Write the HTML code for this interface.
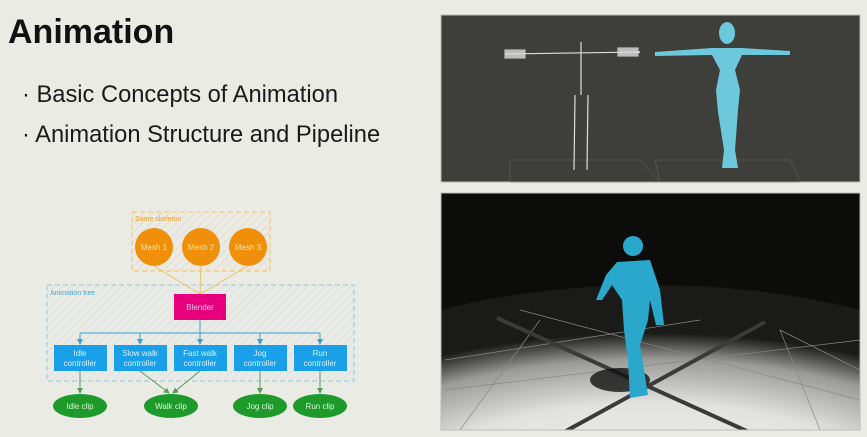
<!DOCTYPE html>
<html><head><meta charset="utf-8"><style>
html,body{margin:0;padding:0;background:#ebebe6;overflow:hidden;width:867px;height:437px;}
svg{display:block;}
</style></head><body>
<svg width="867" height="437" viewBox="0 0 867 437" xmlns="http://www.w3.org/2000/svg" font-family="Liberation Sans, sans-serif">
<defs>
<pattern id="hatchO" width="6" height="6" patternUnits="userSpaceOnUse" patternTransform="rotate(45)"><line x1="0" y1="0" x2="0" y2="6" stroke="#e5dcc8" stroke-width="2"/></pattern>
<pattern id="hatchB" width="6" height="6" patternUnits="userSpaceOnUse" patternTransform="rotate(45)"><line x1="0" y1="0" x2="0" y2="6" stroke="#d8e2e4" stroke-width="2"/></pattern>
<radialGradient id="spot" cx="0.5" cy="0.7" r="0.55">
<stop offset="0" stop-color="#f4f4f2"/><stop offset="0.6" stop-color="#e2e2e0"/><stop offset="0.85" stop-color="#9a9a98"/><stop offset="1" stop-color="#1a1a18"/></radialGradient>
<marker id="ab" markerWidth="6" markerHeight="6" refX="5" refY="3" orient="auto"><path d="M0,0 L6,3 L0,6z" fill="#3aa0d0"/></marker>
<marker id="ag" markerWidth="6" markerHeight="6" refX="5" refY="3" orient="auto"><path d="M0,0 L6,3 L0,6z" fill="#5a9a5a"/></marker>
<clipPath id="bp"><rect x="441" y="193" width="419" height="237"/></clipPath>
</defs>
<rect width="867" height="437" fill="#ebebe6"/>
<text x="8" y="43" font-size="34" font-weight="bold" fill="#111">Animation</text>
<text x="22" y="102" font-size="23.7" fill="#1a1a1a">· Basic Concepts of Animation</text>
<text x="22" y="142" font-size="23.7" fill="#1a1a1a">· Animation Structure and Pipeline</text>

<rect x="132" y="212" width="138" height="59" fill="url(#hatchO)" stroke="#f0c060" stroke-dasharray="5,3"/>
<text x="135" y="221" font-size="7" fill="#e8a030">Same skeleton</text>
<rect x="47" y="285" width="307" height="96" fill="url(#hatchB)" stroke="#90c8dc" stroke-dasharray="5,3"/>
<text x="50" y="295" font-size="7" fill="#40a8d0">Animation tree</text>
<g stroke="#e8c060" stroke-width="1"><line x1="154" y1="266" x2="200" y2="294"/><line x1="201" y1="266" x2="200" y2="294"/><line x1="248" y1="266" x2="200" y2="294"/></g>
<g fill="#f0900a"><circle cx="154" cy="247" r="19"/><circle cx="201" cy="247" r="19"/><circle cx="248" cy="247" r="19"/></g>
<g font-size="8" fill="#f8e0a0" text-anchor="middle"><text x="154" y="250">Mesh 1</text><text x="201" y="250">Mesh 2</text><text x="248" y="250">Mesh 3</text></g>
<rect x="174" y="294" width="52" height="26" fill="#e6007e"/>
<text x="200" y="310" font-size="8" fill="#f8c0e0" text-anchor="middle">Blender</text>
<g stroke="#3aa0d0" fill="none"><line x1="200" y1="320" x2="200" y2="344" marker-end="url(#ab)"/><line x1="80" y1="333" x2="320" y2="333"/>
<line x1="80" y1="333" x2="80" y2="344" marker-end="url(#ab)"/><line x1="140" y1="333" x2="140" y2="344" marker-end="url(#ab)"/><line x1="260" y1="333" x2="260" y2="344" marker-end="url(#ab)"/><line x1="320" y1="333" x2="320" y2="344" marker-end="url(#ab)"/></g>
<g fill="#1aa0e8"><rect x="54" y="345" width="53" height="26"/><rect x="114" y="345" width="53" height="26"/><rect x="174" y="345" width="53" height="26"/><rect x="234" y="345" width="53" height="26"/><rect x="294" y="345" width="53" height="26"/></g>
<g font-size="8" fill="#d8f0ff" text-anchor="middle">
<text x="80" y="356">Idle</text><text x="80" y="366">controller</text>
<text x="140" y="356">Slow walk</text><text x="140" y="366">controller</text>
<text x="200" y="356">Fast walk</text><text x="200" y="366">controller</text>
<text x="260" y="356">Jog</text><text x="260" y="366">controller</text>
<text x="320" y="356">Run</text><text x="320" y="366">controller</text></g>
<g stroke="#5a9a5a" fill="none"><line x1="80" y1="371" x2="80" y2="393" marker-end="url(#ag)"/><line x1="140" y1="371" x2="169" y2="393" marker-end="url(#ag)"/><line x1="200" y1="371" x2="173" y2="393" marker-end="url(#ag)"/><line x1="260" y1="371" x2="260" y2="393" marker-end="url(#ag)"/><line x1="320" y1="371" x2="320" y2="393" marker-end="url(#ag)"/></g>
<g fill="#1e9a2a"><ellipse cx="80" cy="406" rx="27" ry="12"/><ellipse cx="171" cy="406" rx="27" ry="12"/><ellipse cx="260" cy="406" rx="27" ry="12"/><ellipse cx="320" cy="406" rx="27" ry="12"/></g>
<g font-size="8" fill="#d8f8d8" text-anchor="middle"><text x="80" y="409">Idle clip</text><text x="171" y="409">Walk clip</text><text x="260" y="409">Jog clip</text><text x="320" y="409">Run clip</text></g>

<rect x="441" y="15" width="419" height="167" fill="#3e3e3b" stroke="#bbb" stroke-width="1"/>
<g stroke="#6a6a66" stroke-width="0.5" fill="none">
<path d="M510,160 L640,160 L660,182 L510,182 Z"/><path d="M655,160 L790,160 L800,182 L660,182 Z"/>
</g>
<g stroke="#ddd" stroke-width="1.2" fill="#ddd">
<line x1="505" y1="54" x2="640" y2="52"/><line x1="581" y1="42" x2="581" y2="95"/>
<line x1="575" y1="95" x2="574" y2="170"/><line x1="588" y1="95" x2="587" y2="170"/>
<rect x="505" y="50" width="20" height="8" opacity="0.8"/><rect x="618" y="48" width="20" height="8" opacity="0.8"/>
</g>
<g fill="#6ec8dc">
<ellipse cx="727" cy="33" rx="8" ry="11"/>
<path d="M655,52 L712,48 L742,48 L790,51 L790,55 L742,55 L735,70 L740,90 L738,110 L735,150 L738,168 L722,168 L724,150 L718,112 L716,90 L720,70 L712,55 L655,56 Z"/>
</g>

<g clip-path="url(#bp)">
<rect x="441" y="193" width="419" height="237" fill="#0c0c0a"/>
<ellipse cx="650" cy="445" rx="390" ry="160" fill="url(#spot)"/>
<g stroke="#888" stroke-width="0.7"><line x1="445" y1="390" x2="860" y2="340"/><line x1="445" y1="360" x2="700" y2="320"/><line x1="520" y1="310" x2="860" y2="400"/><line x1="780" y1="330" x2="860" y2="370"/><line x1="460" y1="430" x2="540" y2="320"/><line x1="820" y1="430" x2="780" y2="330"/></g>
<g stroke="#3a3a38" stroke-width="4"><line x1="497" y1="318" x2="760" y2="437"/><line x1="765" y1="322" x2="555" y2="437"/></g>
<ellipse cx="620" cy="380" rx="30" ry="12" fill="#111" opacity="0.8"/>
<g fill="#2aa8cc">
<circle cx="633" cy="246" r="10"/>
<path d="M617,262 L650,260 L660,290 L664,325 L656,325 L650,300 L648,320 L640,345 L648,395 L630,398 L628,360 L624,330 L622,300 L612,285 L602,300 L596,300 L606,275 Z"/>
</g>
</g>
<rect x="441" y="193" width="419" height="237" fill="none" stroke="#bbb" stroke-width="1"/>
</svg>
</body></html>
